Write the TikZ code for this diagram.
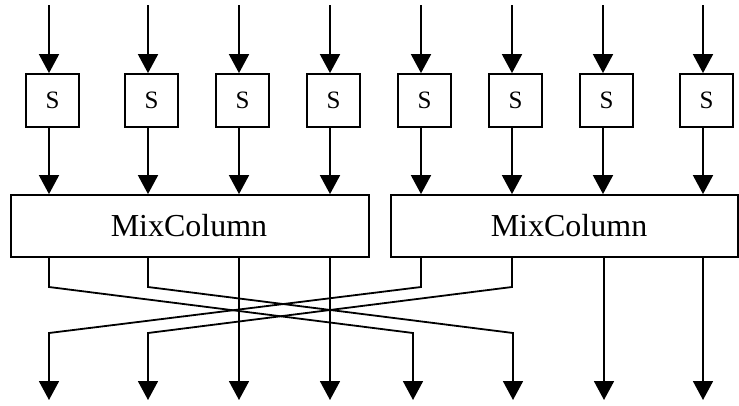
\documentclass[tikz,border=0pt]{standalone}
\usepackage{fontspec}
\setmainfont{Liberation Serif}
\usetikzlibrary{arrows.meta}
\begin{document}
\begin{tikzpicture}[x=1pt,y=-1pt,
  wire/.style={line width=1.8pt},
  flow/.style={wire,-{Triangle[length=19pt,width=20pt]}},
  sbox/.style={draw,line width=1.8pt,minimum width=53pt,minimum height=53pt,
    inner sep=0pt,font=\fontsize{25}{25}\selectfont},
  mixbox/.style={draw,line width=1.8pt,minimum height=62pt,inner sep=0pt},
  mixtext/.style={inner sep=0pt,font=\fontsize{32}{32}\selectfont}]
\useasboundingbox (0,0) rectangle (739,405);

% the two MixColumn blocks
\node[mixbox,minimum width=358pt] (mixL) at (190,226) {};
\node[mixtext] (mixLtext) at (189,226) {MixColumn};
\node[mixbox,minimum width=347pt] (mixR) at (564.5,226) {};
\node[mixtext] (mixRtext) at (569,226) {MixColumn};

% inputs, S-boxes and their links into the MixColumn blocks
\foreach \i/\x/\m in {1/49/mixL,2/148/mixL,3/239/mixL,4/330/mixL,
                      5/421/mixR,6/512/mixR,7/603/mixR,8/703/mixR}{
  \coordinate (in\i) at (\x,5);
  \node[sbox] (s\i) at (\x+3.5,100.5) {S};
  \draw[flow] (in\i) -- (in\i |- s\i.north);
  \draw[flow] (s\i.south -| in\i) -- (in\i |- \m.north);
}

% outputs
\foreach \i/\x in {1/49,2/148,3/239,4/330,5/413,6/513,7/604,8/703}{
  \coordinate (out\i) at (\x,400);
}

% crossing wires between the two halves
\draw[flow] (mixL.south -| in1) -- (in1 |- 0,287) -- (out5 |- 0,333) -- (out5);
\draw[flow] (mixL.south -| in2) -- (in2 |- 0,287) -- (out6 |- 0,333) -- (out6);
\draw[flow] (mixR.south -| in5) -- (in5 |- 0,287) -- (out1 |- 0,333) -- (out1);
\draw[flow] (mixR.south -| in6) -- (in6 |- 0,287) -- (out2 |- 0,333) -- (out2);

% straight-through wires
\draw[flow] (mixL.south -| out3) -- (out3);
\draw[flow] (mixL.south -| out4) -- (out4);
\draw[flow] (mixR.south -| out7) -- (out7);
\draw[flow] (mixR.south -| out8) -- (out8);
\end{tikzpicture}
\end{document}
